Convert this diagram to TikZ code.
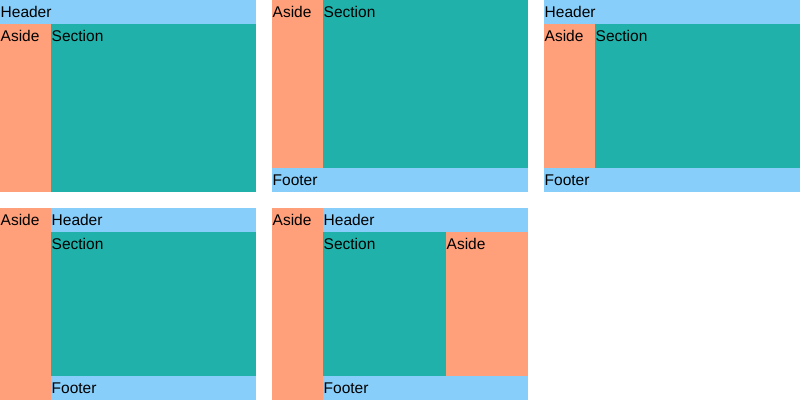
\documentclass[tikz,border=0pt]{standalone}
\usepackage{fontspec}
\setmainfont{Liberation Sans}
\definecolor{headblue}{HTML}{87CEFA}
\definecolor{asidesalmon}{HTML}{FFA07A}
\definecolor{sectionteal}{HTML}{20B2AA}
\tikzset{
  region/.style={inner sep=0pt, outer sep=0pt},
  tag/.style={anchor=base west, inner sep=0pt, font=\fontsize{15.5}{18}\selectfont, text=black},
}
% area: x1, y1, x2, y2, colour, name, label
\newcommand{\area}[7]{%
  \fill[#5] (#1,#2) rectangle (#3,#4);
  \node[tag] (#6) at (#1+0.5,#2+17) {#7};
}
\begin{document}
\begin{tikzpicture}[x=1pt,y=-1pt]
  \useasboundingbox (0,0) rectangle (800,400);

  % Panel 1: header on top, aside and section below
  \area{0}{0}{256}{24}{headblue}{hdA}{Header}
  \area{0}{24}{51}{192}{asidesalmon}{asA}{Aside}
  \area{51}{24}{256}{192}{sectionteal}{seA}{Section}

  % Panel 2: aside and section, footer below
  \area{272}{0}{323}{168}{asidesalmon}{asB}{Aside}
  \area{323}{0}{528}{168}{sectionteal}{seB}{Section}
  \area{272}{168}{528}{192}{headblue}{ftB}{Footer}

  % Panel 3: header, aside, section, footer
  \area{544}{0}{800}{24}{headblue}{hdC}{Header}
  \area{544}{24}{595}{168}{asidesalmon}{asC}{Aside}
  \area{595}{24}{800}{168}{sectionteal}{seC}{Section}
  \area{544}{168}{800}{192}{headblue}{ftC}{Footer}

  % Panel 4: full-height aside
  \area{0}{208}{51}{400}{asidesalmon}{asD}{Aside}
  \area{51}{208}{256}{232}{headblue}{hdD}{Header}
  \area{51}{232}{256}{376}{sectionteal}{seD}{Section}
  \area{51}{376}{256}{400}{headblue}{ftD}{Footer}

  % Panel 5: two asides
  \area{272}{208}{323}{400}{asidesalmon}{asE}{Aside}
  \area{323}{208}{528}{232}{headblue}{hdE}{Header}
  \area{323}{232}{446}{376}{sectionteal}{seE}{Section}
  \area{446}{232}{528}{376}{asidesalmon}{asF}{Aside}
  \area{323}{376}{528}{400}{headblue}{ftE}{Footer}
\end{tikzpicture}
\end{document}
